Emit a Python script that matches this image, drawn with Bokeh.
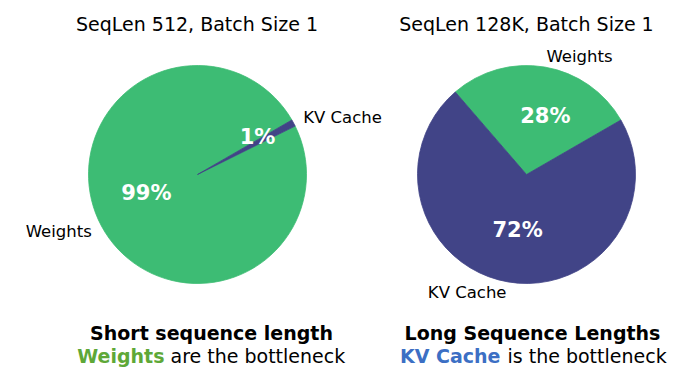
import math
from bokeh.plotting import figure
from bokeh.models import Range1d
from bokeh.core.properties import value
from bokeh.embed import file_html
from bokeh.resources import INLINE

# ---------------- data ----------------
titles = ["SeqLen 512, Batch Size 1", "SeqLen 128K, Batch Size 1"]
categories = ["Weights", "KV Cache"]
shares_short = [99, 1]
shares_long = [28, 72]
headlines = ["Short sequence length", "Long Sequence Lengths"]
bottleneck = ["Weights", "KV Cache"]
rest_text = ["are the bottleneck", "is the bottleneck"]

# ---------------- style / layout ----------------
slice_colors = ["#3dbc74", "#414487"]
accent_colors = ["#5ea838", "#3c6fc4"]
FONT = "DejaVu Sans"
W, H = 684, 372
START_DEG = 30.0
R = 109

def X(px):
    return px

def Y(py):
    return H - py

centers = [(X(197), Y(174)), (X(526), Y(174))]
title_x = [X(196.5), X(526)]
head_x = [X(211), X(532)]
split_x = [(X(164), X(170)), (X(500), X(507))]
pct_dist = [[0.50, 0.65], [0.56, 0.52]]
pct_shift = [[-8.0, 4.0], [-8.4, 0.6]]

p = figure(width=W, height=H, x_range=Range1d(0, W), y_range=Range1d(0, H),
           output_backend="svg", toolbar_location=None, min_border=0)
p.axis.visible = False
p.grid.visible = False
p.outline_line_color = None
p.background_fill_color = "white"
p.border_fill_color = "white"

def label(x, y, s, size, align="center", bold=False, color="black"):
    p.text(x=[x], y=[y], text=[s], text_align=align, text_baseline="middle",
           text_font=value(FONT), text_font_style="bold" if bold else "normal",
           text_font_size=size, text_color=color)

for k, shares in enumerate([shares_short, shares_long]):
    cx, cy = centers[k]
    total = float(sum(shares))
    a0 = START_DEG
    for i, v in enumerate(shares):
        span = 360.0 * v / total
        a1 = a0 + span
        p.wedge(x=cx, y=cy, radius=R,
                start_angle=math.radians(a0), end_angle=math.radians(a1),
                fill_color=slice_colors[i], line_color=slice_colors[i], line_width=0.8)
        mid = math.radians((a0 + a1) / 2.0)
        # category label
        lx = cx + 1.1 * R * math.cos(mid)
        ly = cy + 1.1 * R * math.sin(mid)
        label(lx, ly, categories[i], "16.5px",
              align="left" if math.cos(mid) > 0 else "right")
        # percentage label
        pm = mid + math.radians(pct_shift[k][i])
        d = pct_dist[k][i] * R
        label(cx + d * math.cos(pm), cy + d * math.sin(pm),
              "%d%%" % round(100 * v / total), "21px", bold=True, color="white")
        a0 = a1

    label(title_x[k], Y(23), titles[k], "19px")
    label(head_x[k], Y(332), headlines[k], "19px", bold=True)
    label(split_x[k][0], Y(355), bottleneck[k], "19px", align="right",
          bold=True, color=accent_colors[k])
    label(split_x[k][1], Y(355), rest_text[k], "19px", align="left")

open("out.html", "w").write(file_html(p, INLINE))
